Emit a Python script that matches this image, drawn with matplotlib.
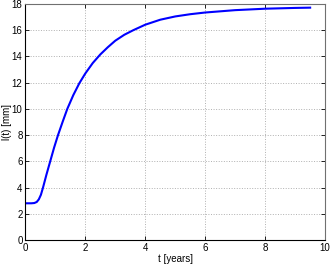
import numpy as np
import matplotlib
matplotlib.use('Agg')
import matplotlib.pyplot as plt

# values
t_years = [0, 0.2, 0.3, 0.38, 0.45, 0.52, 0.59, 0.7, 0.83, 0.96, 1.09, 1.25, 1.4,
           1.6, 1.8, 2.0, 2.25, 2.5, 2.75, 3.0, 3.3, 3.6, 4.0, 4.5, 5.0, 5.5, 6.0,
           7.0, 8.0, 9.0, 9.5]
length_mm = [2.8, 2.8, 2.82, 2.9, 3.1, 3.45, 4.0, 4.95, 6.0, 7.05, 8.0, 9.05, 10.0,
             11.05, 11.95, 12.7, 13.5, 14.15, 14.7, 15.2, 15.65, 16.0, 16.42, 16.8, 17.05, 17.22, 17.35,
             17.53, 17.64, 17.7, 17.72]

x_ticks = [0, 2, 4, 6, 8, 10]
y_ticks = [0, 2, 4, 6, 8, 10, 12, 14, 16, 18]

plt.rcParams['font.family'] = ['Liberation Sans', 'DejaVu Sans']

fig = plt.figure(figsize=(3.32, 2.64), dpi=100)
ax = fig.add_axes([0.0763, 0.0909, 0.903, 0.894])

ax.plot(t_years, length_mm, color='#0000ff', linewidth=1.5)

ax.set_xlim(0, 10)
ax.set_ylim(0, 18)
ax.set_xticks(x_ticks)
ax.set_yticks(y_ticks)
ax.tick_params(direction='in', top=True, right=True, labelsize=7, length=3, width=0.6, pad=2)
ax.grid(True, linestyle=':', color='#b0b0b0', linewidth=0.7)

for side in ['left', 'bottom']:
    ax.spines[side].set_color('black')
    ax.spines[side].set_linewidth(0.8)
for side in ['top', 'right']:
    ax.spines[side].set_color('#707070')
    ax.spines[side].set_linewidth(0.8)

ax.set_xlabel('t [years]', fontsize=7, labelpad=1)
ax.set_ylabel('l(t) [mm]', fontsize=7)
ax.yaxis.set_label_coords(-0.045, 0.5)

fig.savefig('out.png', dpi=100)
